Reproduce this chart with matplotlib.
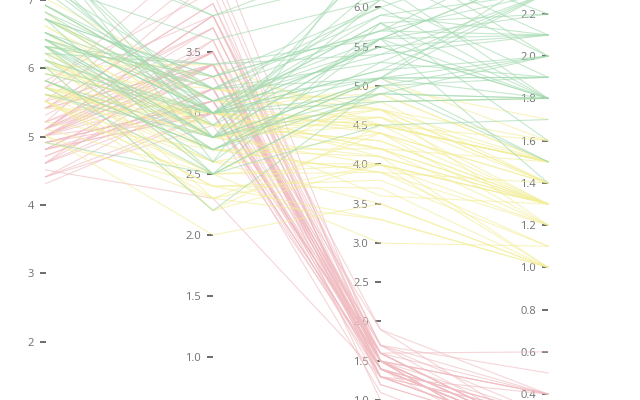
#!/usr/bin/env python3
"""Iris parallel coordinates, cropped view."""

import matplotlib

matplotlib.use("Agg")
import matplotlib.pyplot as plt

plt.rcParams["font.family"] = ["Open Sans", "DejaVu Sans"]

dimensions = ["sepal_length", "sepal_width", "petal_length", "petal_width"]

sepal_length = [
    5.1, 4.9, 4.7, 4.6, 5.0, 5.4, 4.6, 5.0, 4.4, 4.9, 5.4, 4.8, 4.8, 4.3, 5.8, 5.7, 5.4, 5.1, 5.7, 5.1,
    5.4, 5.1, 4.6, 5.1, 4.8, 5.0, 5.0, 5.2, 5.2, 4.7, 4.8, 5.4, 5.2, 5.5, 4.9, 5.0, 5.5, 4.9, 4.4, 5.1,
    5.0, 4.5, 4.4, 5.0, 5.1, 4.8, 5.1, 4.6, 5.3, 5.0,
    7.0, 6.4, 6.9, 5.5, 6.5, 5.7, 6.3, 4.9, 6.6, 5.2, 5.0, 5.9, 6.0, 6.1, 5.6, 6.7, 5.6, 5.8, 6.2, 5.6,
    5.9, 6.1, 6.3, 6.1, 6.4, 6.6, 6.8, 6.7, 6.0, 5.7, 5.5, 5.5, 5.8, 6.0, 5.4, 6.0, 6.7, 6.3, 5.6, 5.5,
    5.5, 6.1, 5.8, 5.0, 5.6, 5.7, 5.7, 6.2, 5.1, 5.7,
    6.3, 5.8, 7.1, 6.3, 6.5, 7.6, 4.9, 7.3, 6.7, 7.2, 6.5, 6.4, 6.8, 5.7, 5.8, 6.4, 6.5, 7.7, 7.7, 6.0,
    6.9, 5.6, 7.7, 6.3, 6.7, 7.2, 6.2, 6.1, 6.4, 7.2, 7.4, 7.9, 6.4, 6.3, 6.1, 7.7, 6.3, 6.4, 6.0, 6.9,
    6.7, 6.9, 5.8, 6.8, 6.7, 6.7, 6.3, 6.5, 6.2, 5.9,
]
sepal_width = [
    3.5, 3.0, 3.2, 3.1, 3.6, 3.9, 3.4, 3.4, 2.9, 3.1, 3.7, 3.4, 3.0, 3.0, 4.0, 4.4, 3.9, 3.5, 3.8, 3.8,
    3.4, 3.7, 3.6, 3.3, 3.4, 3.0, 3.4, 3.5, 3.4, 3.2, 3.1, 3.4, 4.1, 4.2, 3.1, 3.2, 3.5, 3.1, 3.0, 3.4,
    3.5, 2.3, 3.2, 3.5, 3.8, 3.0, 3.8, 3.2, 3.7, 3.3,
    3.2, 3.2, 3.1, 2.3, 2.8, 2.8, 3.3, 2.4, 2.9, 2.7, 2.0, 3.0, 2.2, 2.9, 2.9, 3.1, 3.0, 2.7, 2.2, 2.5,
    3.2, 2.8, 2.5, 2.8, 2.9, 3.0, 2.8, 3.0, 2.9, 2.6, 2.4, 2.4, 2.7, 2.7, 3.0, 3.4, 3.1, 2.3, 3.0, 2.5,
    2.6, 3.0, 2.6, 2.3, 2.7, 3.0, 2.9, 2.9, 2.5, 2.8,
    3.3, 2.7, 3.0, 2.9, 3.0, 3.0, 2.5, 2.9, 2.5, 3.6, 3.2, 2.7, 3.0, 2.5, 2.8, 3.2, 3.0, 3.8, 2.6, 2.2,
    3.2, 2.8, 2.8, 2.7, 3.3, 3.2, 2.8, 3.0, 2.8, 3.0, 2.8, 3.8, 2.8, 2.8, 2.6, 3.0, 3.4, 3.1, 3.0, 3.1,
    3.1, 3.1, 2.7, 3.2, 3.3, 3.0, 2.5, 3.0, 3.4, 3.0,
]
petal_length = [
    1.4, 1.4, 1.3, 1.5, 1.4, 1.7, 1.4, 1.5, 1.4, 1.5, 1.5, 1.6, 1.4, 1.1, 1.2, 1.5, 1.3, 1.4, 1.7, 1.5,
    1.7, 1.5, 1.0, 1.7, 1.9, 1.6, 1.6, 1.5, 1.4, 1.6, 1.6, 1.5, 1.5, 1.4, 1.5, 1.2, 1.3, 1.5, 1.3, 1.5,
    1.3, 1.3, 1.3, 1.6, 1.9, 1.4, 1.6, 1.4, 1.5, 1.4,
    4.7, 4.5, 4.9, 4.0, 4.6, 4.5, 4.7, 3.3, 4.6, 3.9, 3.5, 4.2, 4.0, 4.7, 3.6, 4.4, 4.5, 4.1, 4.5, 3.9,
    4.8, 4.0, 4.9, 4.7, 4.3, 4.4, 4.8, 5.0, 4.5, 3.5, 3.8, 3.7, 3.9, 5.1, 4.5, 4.5, 4.7, 4.4, 4.1, 4.0,
    4.4, 4.6, 4.0, 3.3, 4.2, 4.2, 4.2, 4.3, 3.0, 4.1,
    6.0, 5.1, 5.9, 5.6, 5.8, 6.6, 4.5, 6.3, 5.8, 6.1, 5.1, 5.3, 5.5, 5.0, 5.1, 5.3, 5.5, 6.7, 6.9, 5.0,
    5.7, 4.9, 6.7, 4.9, 5.7, 6.0, 4.8, 4.9, 5.6, 5.8, 6.1, 6.4, 5.6, 5.1, 5.6, 6.1, 5.6, 5.5, 4.8, 5.4,
    5.6, 5.1, 5.1, 5.9, 5.7, 5.2, 5.0, 5.2, 5.4, 5.1,
]
petal_width = [
    0.2, 0.2, 0.2, 0.2, 0.2, 0.4, 0.3, 0.2, 0.2, 0.1, 0.2, 0.2, 0.1, 0.1, 0.2, 0.4, 0.4, 0.3, 0.3, 0.3,
    0.2, 0.4, 0.2, 0.5, 0.2, 0.2, 0.4, 0.2, 0.2, 0.2, 0.2, 0.4, 0.1, 0.2, 0.1, 0.2, 0.2, 0.1, 0.2, 0.2,
    0.3, 0.3, 0.2, 0.6, 0.4, 0.3, 0.2, 0.2, 0.2, 0.2,
    1.4, 1.5, 1.5, 1.3, 1.5, 1.3, 1.6, 1.0, 1.3, 1.4, 1.0, 1.5, 1.0, 1.4, 1.3, 1.4, 1.5, 1.0, 1.5, 1.1,
    1.8, 1.3, 1.5, 1.2, 1.3, 1.4, 1.4, 1.7, 1.5, 1.0, 1.1, 1.0, 1.2, 1.6, 1.5, 1.6, 1.5, 1.3, 1.3, 1.3,
    1.2, 1.4, 1.2, 1.0, 1.3, 1.2, 1.3, 1.3, 1.1, 1.3,
    2.5, 1.9, 2.1, 1.8, 2.2, 2.1, 1.7, 1.8, 1.8, 2.5, 2.0, 1.9, 2.1, 2.0, 2.4, 2.3, 1.8, 2.2, 2.3, 1.5,
    2.3, 2.0, 2.0, 1.8, 2.1, 1.8, 1.8, 1.8, 2.1, 1.6, 1.9, 2.0, 2.2, 1.5, 1.4, 2.3, 2.4, 1.8, 1.8, 2.1,
    2.4, 2.3, 1.9, 2.3, 2.5, 2.3, 1.9, 2.0, 2.3, 1.8,
]
species = ["setosa"] * 50 + ["versicolor"] * 50 + ["virginica"] * 50

# what each axis shows at the top and bottom edge of the canvas (the view is cropped)
view_top = [6.978, 3.929, 6.093, 2.266]
view_bottom = [1.147, 0.644, 1.004, 0.372]
tick_values = [
    [2, 3, 4, 5, 6, 7],
    [1.0, 1.5, 2.0, 2.5, 3.0, 3.5],
    [1.0, 1.5, 2.0, 2.5, 3.0, 3.5, 4.0, 4.5, 5.0, 5.5, 6.0],
    [0.4, 0.6, 0.8, 1.0, 1.2, 1.4, 1.6, 1.8, 2.0, 2.2],
]
tick_formats = ["{:.0f}", "{:.1f}", "{:.1f}", "{:.1f}"]

COLORS = {"setosa": "#f0bcc1", "versicolor": "#f3ee98", "virginica": "#a3dab0"}
AXIS_X = [45.5, 213.0, 380.5, 548.0]
W, H = 640, 400


def main() -> int:
    fig = plt.figure(figsize=(W / 100, H / 100), dpi=100)

    # one thin axes per dimension, only used for its ticks and labels
    for i, name in enumerate(dimensions):
        tax = fig.add_axes([AXIS_X[i] / W, 0, 0.0001, 1])
        tax.set_ylim(view_bottom[i], view_top[i])
        tax.set_xticks([])
        tax.set_yticks(tick_values[i])
        tax.set_yticklabels([tick_formats[i].format(v) for v in tick_values[i]])
        tax.tick_params(axis="y", length=4.5, width=1.1, color="#444444",
                        labelcolor="#707070", labelsize=8, pad=4)
        for sp in tax.spines.values():
            sp.set_visible(False)
        tax.patch.set_alpha(0)

    ax = fig.add_axes([0, 0, 1, 1])
    ax.set_xlim(0, W)
    ax.set_ylim(0, 1)
    ax.axis("off")
    ax.patch.set_alpha(0)

    columns = [sepal_length, sepal_width, petal_length, petal_width]
    for r in range(len(species)):
        ys = [(columns[i][r] - view_bottom[i]) / (view_top[i] - view_bottom[i]) for i in range(4)]
        ax.plot(AXIS_X, ys, color=COLORS[species[r]], lw=0.8, alpha=0.62)

    fig.savefig("out.png", dpi=100)
    plt.close(fig)
    return 0


if __name__ == "__main__":
    raise SystemExit(main())
